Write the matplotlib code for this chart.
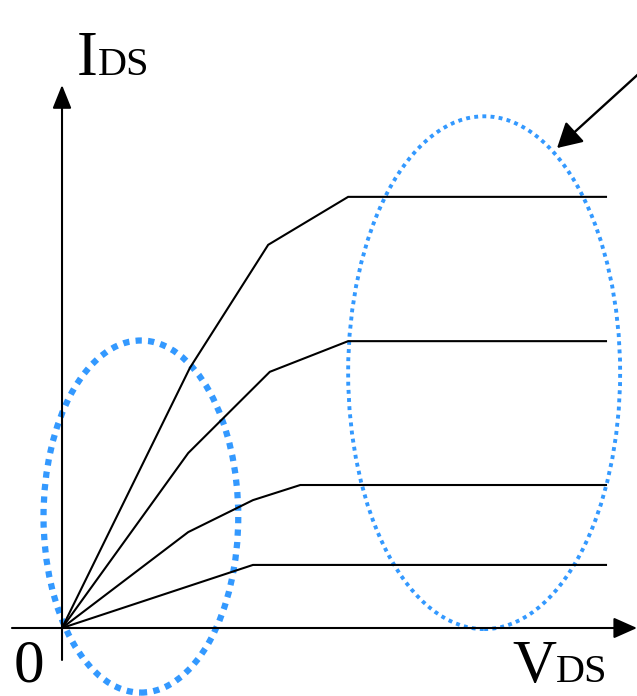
import matplotlib
matplotlib.use('Agg')
import matplotlib.pyplot as plt
from matplotlib.patches import Ellipse

# I-V curves (drain voltage vs drain current, arbitrary units)
vds_1 = [0, 2.35, 3.79, 5.26, 10.0]
ids_1 = [0, 6.02, 8.87, 9.98, 9.98]
vds_2 = [0, 2.32, 3.82, 5.26, 10.0]
ids_2 = [0, 4.05, 5.93, 6.64, 6.64]
vds_3 = [0, 2.32, 3.51, 4.38, 10.0]
ids_3 = [0, 2.22, 2.96, 3.31, 3.31]
vds_4 = [0, 3.51, 10.0]
ids_4 = [0, 1.46, 1.46]
curves = [(vds_1, ids_1), (vds_2, ids_2), (vds_3, ids_3), (vds_4, ids_4)]

# highlighted regions: (center V, center I, width, height)
linear_region = (1.45, 2.58, 3.58, 8.15)
saturation_region = (7.76, 5.91, 5.0, 11.87)

blue = '#3399FF'
serif = 'Liberation Serif'

fig = plt.figure(figsize=(6.37, 6.96), dpi=100)
ax = fig.add_axes([0, 0, 1, 1])
ax.set_xlim(-1.14, 10.57)
ax.set_ylim(-1.574, 14.537)
ax.axis('off')

for v, i in curves:
    ax.plot(v, i, color='black', lw=1.5, solid_joinstyle='miter')

# axes with arrows
ax.annotate('', xy=(0, 12.57), xytext=(0, -0.74),
            arrowprops=dict(arrowstyle='-|>,head_length=0.72,head_width=0.29',
                            mutation_scale=20, lw=1.5, color='black',
                            shrinkA=0, shrinkB=0))
ax.annotate('', xy=(10.57, 0), xytext=(-0.92, 0),
            arrowprops=dict(arrowstyle='-|>,head_length=0.72,head_width=0.32',
                            mutation_scale=20, lw=1.5, color='black',
                            shrinkA=0, shrinkB=0))

# dotted ellipses
cx, cy, w, h = linear_region
ax.add_patch(Ellipse((cx, cy), w, h, fill=False, edgecolor=blue, lw=4.5,
                     linestyle=(0, (1, 1)), clip_on=False))
cx, cy, w, h = saturation_region
ax.add_patch(Ellipse((cx, cy), w, h, fill=False, edgecolor=blue, lw=2.8,
                     linestyle=(0, (1, 1.1)), clip_on=False))

# pointer arrow
ax.annotate('', xy=(9.10, 11.11), xytext=(10.75, 13.0),
            arrowprops=dict(arrowstyle='-|>,head_length=0.75,head_width=0.42',
                            mutation_scale=20, lw=1.7, color='black',
                            shrinkA=0, shrinkB=0))

# labels
fig.text(77 / 637, 1 - 75 / 696, 'I', fontsize=45, family=serif, va='baseline')
fig.text(98 / 637, 1 - 75 / 696, 'DS', fontsize=29, family=serif, va='baseline')
fig.text(14 / 637, 1 - 682 / 696, '0', fontsize=44, family=serif, va='baseline')
fig.text(512 / 637, 1 - 682 / 696, 'V', fontsize=44, family=serif, va='baseline')
fig.text(556 / 637, 1 - 682 / 696, 'DS', fontsize=29, family=serif, va='baseline')

fig.savefig('out.png', dpi=100)
